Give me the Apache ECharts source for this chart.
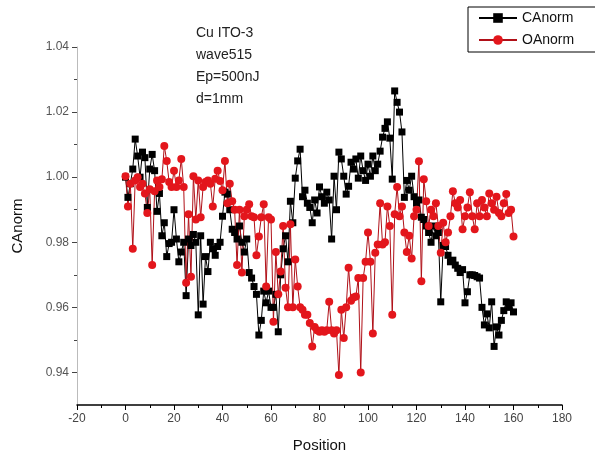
<!DOCTYPE html>
<html><head><meta charset="utf-8">
<script src="https://cdn.jsdelivr.net/npm/echarts@6/dist/echarts.min.js"></script>
<style>html,body{margin:0;padding:0;background:#fff}#c{width:595px;height:459px}</style>
</head><body><div id="c"></div>
<script>
var positions = [];
for (var p = 0; p <= 160; p++) positions.push(p);

var caNorm = [
1.000,0.9938,0.998,1.0025,1.0117,1.0065,1.000,1.0077,1.006,0.9907,
1.0025,1.007,1.002,0.9895,0.995,0.982,0.986,0.9756,0.9796,0.98,
0.99,0.981,0.974,0.977,0.98,0.9636,0.981,0.979,0.9824,0.98,
0.9577,0.982,0.961,0.9756,0.971,0.98,0.978,0.976,0.9787,0.98,
0.988,0.9954,0.9948,0.99,0.984,0.983,0.981,0.985,0.98,0.977,
0.981,0.9707,0.969,0.9664,0.964,0.9515,0.956,0.965,0.9614,0.965,
0.96,0.96,0.964,0.9525,0.97,0.978,0.982,0.974,0.9926,0.986,
0.9997,1.005,1.0086,0.994,0.996,0.992,0.9907,0.986,0.993,0.989,
0.997,0.994,0.992,0.9954,0.993,0.981,1.0003,0.99,1.0077,1.0056,
1.0003,0.9948,0.9972,1.0046,1.0025,1.0056,0.9997,1.0065,1.002,0.999,
1.004,1.0003,1.0065,1.002,1.004,1.008,1.0123,1.015,1.017,1.012,
0.9994,1.0265,1.023,1.02,1.0139,0.9938,0.999,0.996,1.0003,0.994,
0.992,0.993,0.9877,0.987,0.985,0.983,0.98,0.985,0.982,0.983,
0.9617,0.979,0.9787,0.976,0.974,0.9745,0.973,0.972,0.9707,0.9716,
0.9614,0.9648,0.97,0.97,0.9698,0.9694,0.969,0.96,0.9546,0.958,
0.9537,0.9617,0.948,0.954,0.9515,0.956,0.959,0.9617,0.96,0.9614,0.9586
];

var oaNorm = [
1.0003,0.991,0.998,0.978,0.999,1.000,0.997,0.998,0.995,0.989,
0.9963,0.973,0.9957,0.999,0.997,0.9994,1.0096,1.005,0.9985,0.997,
1.002,0.997,0.999,1.0056,0.997,0.9676,0.9886,0.9694,1.0003,0.987,
0.999,0.9877,0.997,0.9985,0.999,0.998,0.991,0.9995,1.002,0.9988,
0.996,1.005,0.992,0.998,0.9926,0.99,0.973,0.99,0.9707,0.988,
0.99,0.9917,0.988,0.9877,0.976,0.9818,0.9877,0.9917,0.9664,0.9877,
0.987,0.9556,0.977,0.964,0.971,0.985,0.966,0.96,0.9855,0.96,
0.9747,0.9664,0.96,0.9593,0.9577,0.9577,0.9552,0.948,0.954,0.953,
0.9525,0.953,0.9525,0.953,0.9617,0.953,0.952,0.953,0.9392,0.9593,
0.9506,0.96,0.9722,0.962,0.963,0.9633,0.969,0.94,0.969,0.974,
0.983,0.974,0.952,0.9768,0.9793,0.992,0.9793,0.98,0.991,0.985,
0.9577,0.9886,0.997,0.988,0.991,0.983,0.977,0.982,0.975,0.988,
0.99,1.0049,0.968,0.9994,0.9926,0.985,0.99,0.988,0.992,0.985,
0.9768,0.986,0.98,0.983,0.988,0.9957,0.992,0.9907,0.993,0.984,
0.988,0.9907,0.9954,0.988,0.984,0.992,0.988,0.993,0.9907,0.988,
0.995,0.992,0.99,0.994,0.989,0.988,0.992,0.9948,0.989,0.99,0.9818
];

var yMajorTicks = [0.94,0.96,0.98,1.00,1.02,1.04];
var yMinorTicks = [0.95,0.97,0.99,1.01,1.03];
var annotation = ['Cu ITO-3','wave515','Ep=500nJ','d=1mm'];

function pairs(xs, ys){ return xs.map(function(x,i){ return [x, ys[i]]; }); }

var FONT = 'Liberation Sans, Arial, sans-serif';
var chart = echarts.init(document.getElementById('c'), null, {renderer:'canvas'});
chart.setOption({
  animation:false,
  backgroundColor:'#fff',
  grid:{left:77, right:33, top:47, bottom:54},
  legend:{
    left:468, top:7, orient:'vertical',
    data:['CAnorm','OAnorm'],
    borderColor:'#000', borderWidth:1, padding:[4,24,5,10],
    itemWidth:38, itemHeight:12, itemGap:8,
    textStyle:{fontFamily:FONT, fontSize:14, color:'#111'}
  },
  graphic:[{
    type:'text', left:196, top:22,
    style:{text:annotation.join('\n'), font:'14px '+FONT, lineHeight:22, fill:'#222'}
  }],
  xAxis:{
    type:'value', min:-20, max:180, interval:20,
    name:'Position', nameLocation:'middle', nameGap:33,
    nameTextStyle:{fontFamily:FONT, fontSize:15, color:'#111'},
    axisLine:{show:true, onZero:false, lineStyle:{color:'#000', width:1.5}},
    axisTick:{show:true, length:5, lineStyle:{color:'#000'}},
    minorTick:{show:true, splitNumber:2, length:3, lineStyle:{color:'#000'}},
    splitLine:{show:false},
    axisLabel:{fontFamily:FONT, fontSize:12, color:'#444', margin:8}
  },
  yAxis:[{
    type:'value', min:0.93, max:1.04,
    name:'CAnorm', nameLocation:'middle', nameGap:52,
    nameTextStyle:{fontFamily:FONT, fontSize:15, color:'#111'},
    axisLine:{show:true, onZero:false, lineStyle:{color:'#bbb', width:1}},
    axisTick:{show:true, length:5, customValues:yMajorTicks, lineStyle:{color:'#444'}},
    splitLine:{show:false},
    axisLabel:{fontFamily:FONT, fontSize:12, color:'#555', margin:8,
      customValues:yMajorTicks, formatter:function(v){ return v.toFixed(2); }}
  },{
    type:'value', min:0.93, max:1.04, position:'left',
    axisLine:{show:false, onZero:false},
    axisTick:{show:true, length:3, customValues:yMinorTicks, lineStyle:{color:'#444'}},
    axisLabel:{show:false, customValues:yMinorTicks},
    splitLine:{show:false}
  }],
  series:[{
    name:'CAnorm', type:'line', data:pairs(positions, caNorm),
    symbol:'rect', symbolSize:7, showAllSymbol:true,
    itemStyle:{color:'#000'}, lineStyle:{color:'#000', width:1}
  },{
    name:'OAnorm', type:'line', data:pairs(positions, oaNorm),
    symbol:'circle', symbolSize:8, showAllSymbol:true,
    itemStyle:{color:'#e3161c'}, lineStyle:{color:'#b01018', width:1}
  }]
});
</script></body></html>
